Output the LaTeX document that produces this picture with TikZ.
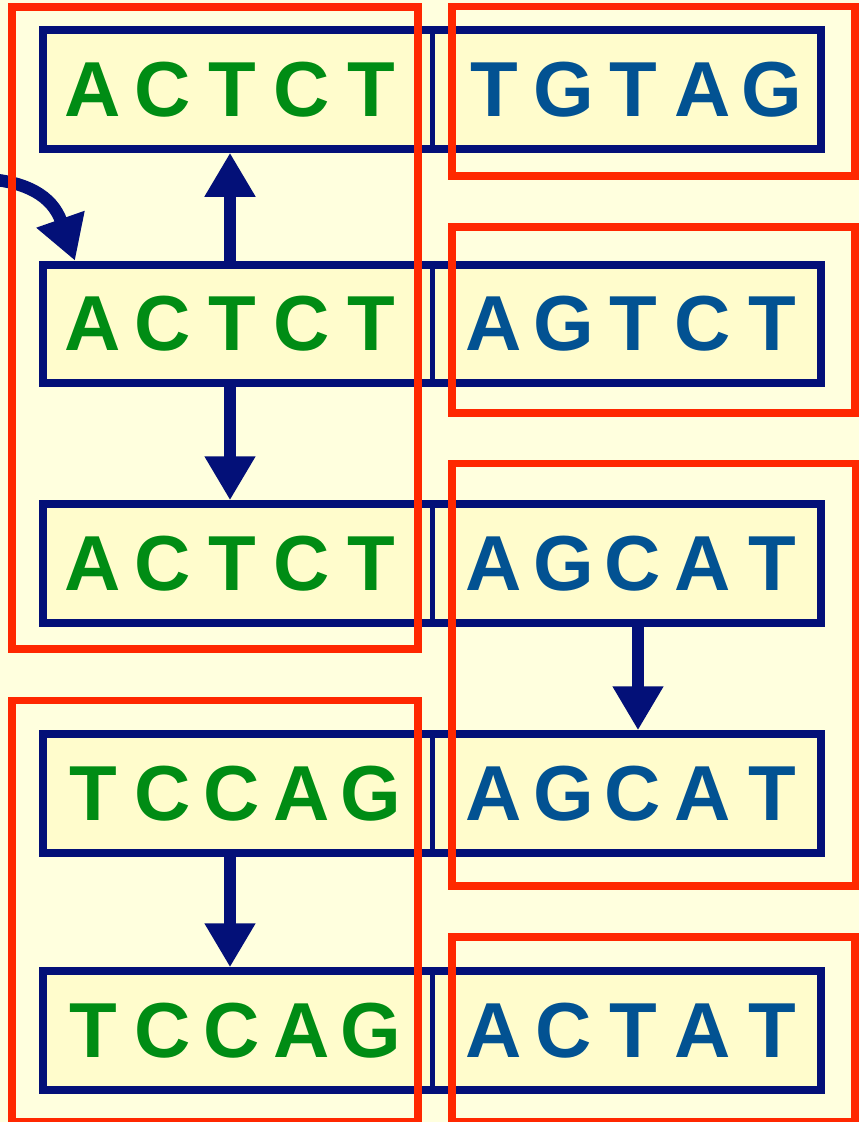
\documentclass[tikz,border=0pt]{standalone}
\usepackage{fontspec}
\setmainfont{Liberation Sans}
\usetikzlibrary{arrows.meta}

\definecolor{paper}{RGB}{255,255,222}
\definecolor{boxfill}{RGB}{255,252,204}
\definecolor{navy}{RGB}{3,16,120}
\definecolor{leftgreen}{RGB}{0,140,20}
\definecolor{rightblue}{RGB}{2,82,146}
\definecolor{groupred}{RGB}{255,40,0}

% five bases, evenly spaced
\newcommand\fivebases[5]{%
  \makebox[69.5pt]{#1}\makebox[69.5pt]{#2}\makebox[69.5pt]{#3}%
  \makebox[69.5pt]{#4}\makebox[69.5pt]{#5}}

\tikzset{
  strand/.style={draw=navy, line width=8pt, fill=boxfill,
    minimum width=778.5pt, minimum height=118.5pt, inner sep=0pt},
  divider/.style={draw=navy, line width=4.5pt},
  seq/.style={inner sep=0pt, font=\fontsize{78}{78}\selectfont\bfseries},
  leftseq/.style={seq, text=leftgreen},
  rightseq/.style={seq, text=rightblue},
  group/.style={draw=groupred, line width=7.5pt},
  link/.style={draw=navy, line width=12.5pt,
    -{Triangle[length=44pt, width=48pt]}},
}

\begin{document}
\begin{tikzpicture}[x=1pt, y=-1pt]
  \fill[paper] (0,0) rectangle (859,1122);
  \useasboundingbox (0,0) rectangle (859,1122);

  % strands
  \node[strand] (row1) at (431.75,89.5) {};
  \node[strand] (row2) at (431.75,324) {};
  \node[strand] (row3) at (431.75,563.5) {};
  \node[strand] (row4) at (431.75,793.5) {};
  \node[strand] (row5) at (431.75,1030.5) {};

  % split between the two halves
  \coordinate (mid) at (432.5,0);
  \foreach \r in {row1,row2,row3,row4,row5}
    \draw[divider] (\r.north -| mid) -- (\r.south -| mid);

  % sequences
  \node[leftseq]  (l1) at (232,89.5)   {\fivebases{A}{C}{T}{C}{T}};
  \node[rightseq] (r1) at (633,89.5)   {\fivebases{T}{G}{T}{A}{G}};
  \node[leftseq]  (l2) at (232,324)    {\fivebases{A}{C}{T}{C}{T}};
  \node[rightseq] (r2) at (633,324)    {\fivebases{A}{G}{T}{C}{T}};
  \node[leftseq]  (l3) at (232,563.5)  {\fivebases{A}{C}{T}{C}{T}};
  \node[rightseq] (r3) at (633,563.5)  {\fivebases{A}{G}{C}{A}{T}};
  \node[leftseq]  (l4) at (232,793.5)  {\fivebases{T}{C}{C}{A}{G}};
  \node[rightseq] (r4) at (633,793.5)  {\fivebases{A}{G}{C}{A}{T}};
  \node[leftseq]  (l5) at (232,1030.5) {\fivebases{T}{C}{C}{A}{G}};
  \node[rightseq] (r5) at (633,1030.5) {\fivebases{A}{C}{T}{A}{T}};

  % connectors
  \coordinate (lx) at (230,0);
  \coordinate (rx) at (638,0);
  \coordinate (cx) at (75,0);
  \coordinate (feed) at (-12,179);
  \draw[link] (row2.north -| lx) -- (row1.south -| lx);
  \draw[link] (row2.south -| lx) -- (row3.north -| lx);
  \draw[link] (row3.south -| rx) -- (row4.north -| rx);
  \draw[link] (row4.south -| lx) -- (row5.north -| lx);
  \draw[link] (feed) .. controls (25,182) and (52,195) .. (row2.north -| cx);

  % groupings
  \draw[group] (12,7) rectangle (418,649);
  \draw[group] (452,6.5) rectangle (855,176);
  \draw[group] (452,227) rectangle (855,413);
  \draw[group] (452,463.5) rectangle (856,886);
  \draw[group] (12,700.5) rectangle (418,1122);
  \draw[group] (452,937) rectangle (855,1122);
\end{tikzpicture}
\end{document}
